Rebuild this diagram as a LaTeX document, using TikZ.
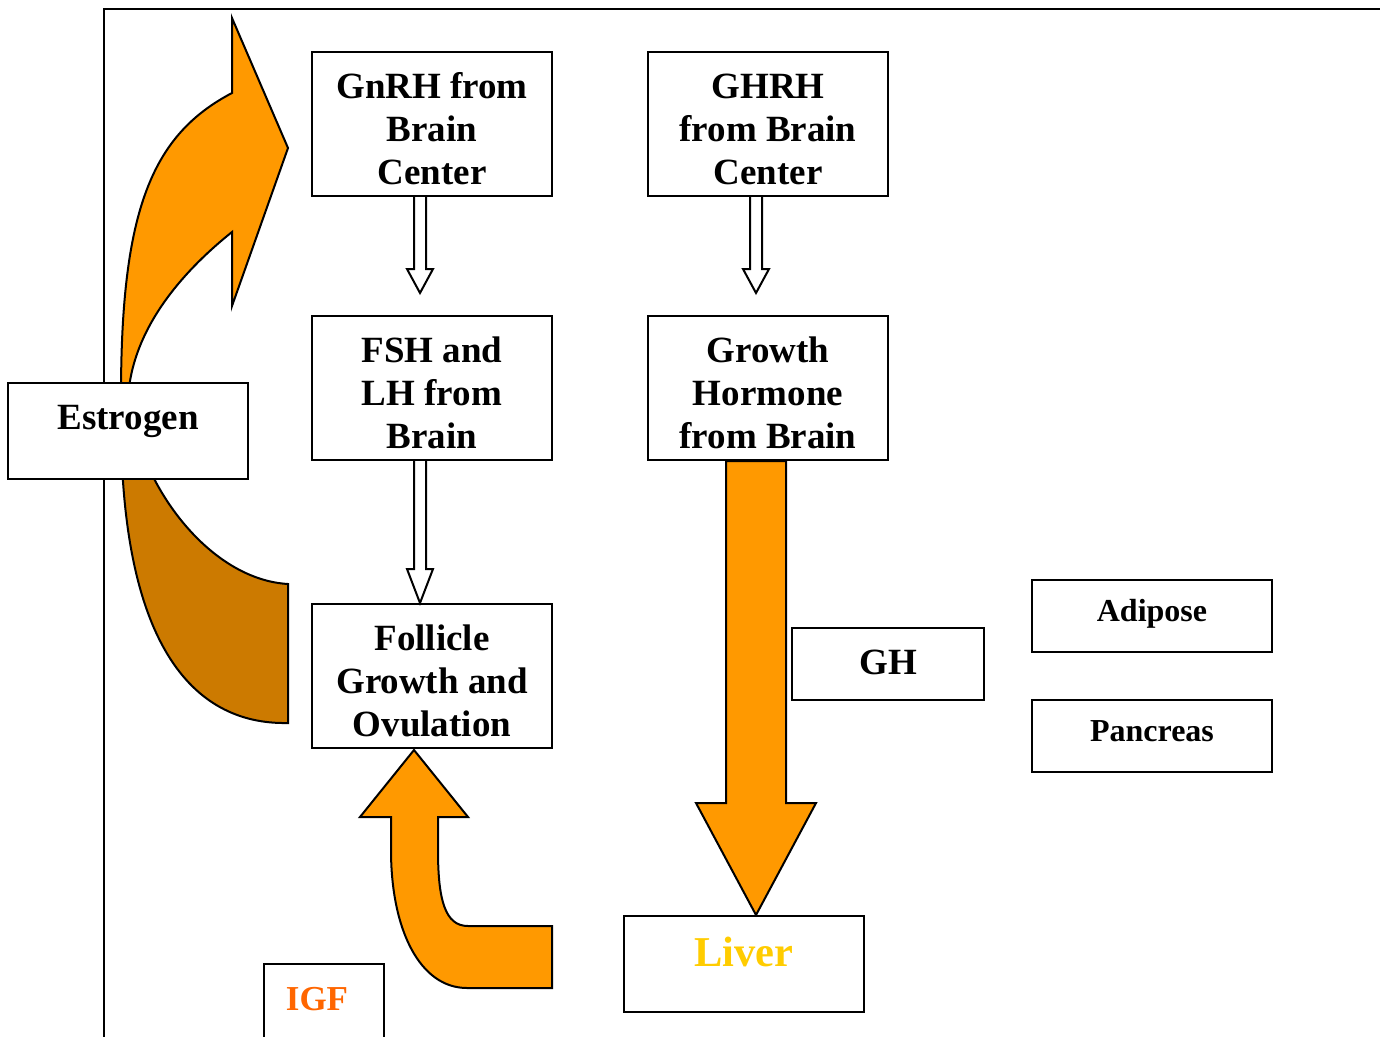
\documentclass[tikz,border=0pt]{standalone}
\usepackage{fontspec}
\setmainfont{Liberation Serif}
\usetikzlibrary{calc}
\definecolor{orng}{HTML}{FF9900}
\definecolor{dorng}{HTML}{CC7A00}
\definecolor{livercol}{HTML}{FFCC00}
\definecolor{igfcol}{HTML}{FF6600}
\newcommand{\mlines}[1]{\begin{tabular}[t]{@{}c@{}}#1\end{tabular}}
\tikzset{
  box/.style={draw, line width=2pt, fill=white, inner sep=0pt, minimum width=240pt, minimum height=144pt},
  smallbox/.style={box, minimum height=72pt},
  midbox/.style={box, minimum height=96pt},
  txt/.style={anchor=base, inner sep=0pt, font=\fontsize{37}{43}\selectfont\bfseries},
  stxt/.style={anchor=base, inner sep=0pt, font=\fontsize{32}{38}\selectfont\bfseries},
  hollow/.style={draw, line width=2pt, fill=white, line join=miter},
  solidarrow/.style={draw, line width=2pt, fill=orng, line join=miter},
  frameline/.style={line width=2pt}
}
\begin{document}
\begin{tikzpicture}[x=1pt, y=-1pt]
\useasboundingbox (0,0) rectangle (1380,1036);
% frame
\draw[frameline] (104,1040) -- (104,9) -- (1384,9);

% back (dark) part of curved arrow
\draw[line width=2pt, fill=dorng] (121,420) .. controls (121,640) and (190,725) .. (288,723)
  -- (288,584) .. controls (220,580) and (160,510) .. (138,440) -- cycle;
% front part of curved arrow
\draw[solidarrow] (121,430) -- (121,395) .. controls (121,210) and (152,135) .. (232,93)
  -- (232,18) -- (288,148) -- (232,306) -- (232,232)
  .. controls (182,272) and (131,330) .. (128,400) -- (128,430) -- cycle;

% boxes
\node[box] (gnrh) at (432,124) {};
\node[box] (ghrh) at (768,124) {};
\node[box] (fsh) at (432,388) {};
\node[box] (growth) at (768,388) {};
\node[box] (follicle) at (432,676) {};
\node[midbox] (estrogen) at (128,431) {};
\node[smallbox, minimum width=192pt] (gh) at (888,664) {};
\node[smallbox] (adipose) at (1152,616) {};
\node[smallbox] (pancreas) at (1152,736) {};
\node[midbox] (liver) at (744,964) {};
\node[midbox, minimum width=120pt] (igf) at (324,1012) {};

% hollow arrows
\draw[hollow] ($(gnrh.south)+(-18,0)$) -- ++(0,72) -- ++(-7,0) -- ++(13,24) -- ++(13,-24) -- ++(-7,0) -- ++(0,-72);
\draw[hollow] ($(ghrh.south)+(-18,0)$) -- ++(0,72) -- ++(-7,0) -- ++(13,24) -- ++(13,-24) -- ++(-7,0) -- ++(0,-72);
\draw[hollow] ($(fsh.south)+(-18,0)$) -- ++(0,108) -- ++(-7,0) -- ($(follicle.north)+(-12,0)$) -- ($(fsh.south)+(1,108)$) -- ++(-7,0) -- ++(0,-108);

% big GH arrow to liver
\draw[solidarrow] ($(growth.south)+(-42,0)$) -- ++(0,342) -- ++(-30,0) -- ($(liver.north)+(12,0)$)
  -- ($(growth.south)+(48,342)$) -- ++(-30,0) -- ++(0,-342) -- cycle;

% IGF arrow to follicle
\draw[solidarrow] ($(follicle.south)+(-18,1)$) -- (468,817) -- (438,817) -- (438,850)
  .. controls (438,900) and (445,926) .. (468,926) -- (552,926) -- (552,988) -- (467,988)
  .. controls (420,988) and (391,930) .. (391,850) -- (391,817) -- (360,817) -- cycle;

% texts
\node[txt] (gnrhT) at (432,98) {\mlines{GnRH from\\Brain\\Center}};
\node[txt] (ghrhT) at (768,98) {\mlines{GHRH\\from Brain\\Center}};
\node[txt] (fshT) at (432,362) {\mlines{FSH and\\LH from\\Brain}};
\node[txt] (growthT) at (768,362) {\mlines{Growth\\Hormone\\from Brain}};
\node[txt] (follicleT) at (432,650) {\mlines{Follicle\\Growth and\\Ovulation}};
\node[txt] (estrogenT) at (128,429) {Estrogen};
\node[txt] (ghT) at (888,674) {GH};
\node[stxt] (adiposeT) at (1152,621) {Adipose};
\node[stxt] (pancreasT) at (1152,741) {Pancreas};
\node[txt, font=\fontsize{42.5}{48}\selectfont\bfseries, text=livercol] (liverT) at (744,966) {Liver};
\node[txt, font=\fontsize{35}{42}\selectfont\bfseries, text=igfcol] (igfT) at (317,1010) {IGF};
\end{tikzpicture}
\end{document}
